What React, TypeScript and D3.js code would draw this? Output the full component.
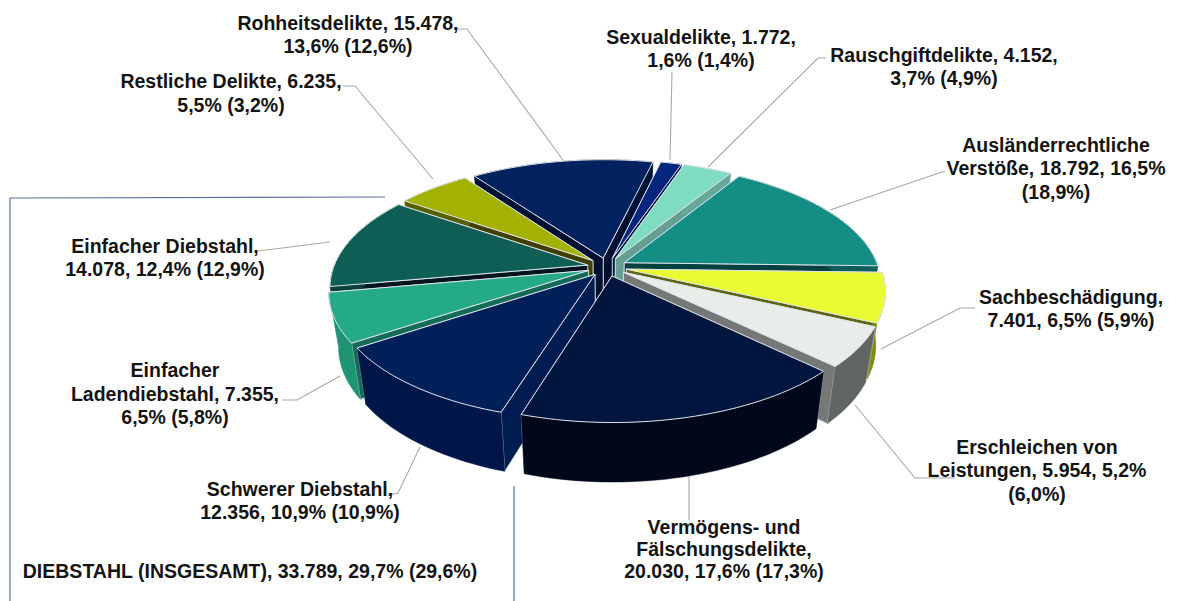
import React from "react";
import * as d3 from "d3";

const W = 1179, H = 601;
const categories = ["Sexualdelikte","Rauschgiftdelikte","Ausländerrechtliche Verstöße","Sachbeschädigung","Erschleichen von Leistungen","Vermögens- und Fälschungsdelikte","Schwerer Diebstahl","Einfacher Ladendiebstahl","Einfacher Diebstahl","Restliche Delikte","Rohheitsdelikte"];
const values = [1772,4152,18792,7401,5954,20030,12356,7355,14078,6235,15478];
const topColors = ["#04257e","#7fdcc2","#148d85","#e9fb33","#e9edea","#01163f","#011f59","#24ab86","#0e5e55","#a3b200","#02215f"];
const wallColors = ["#021a58","#65a898","#0d5f5a","#7d8a10","#626663","#01081c","#011648","#1f9474","#09403a","#555f00","#011238"];
const sideColors = ["#011545","#649f92","#07413f","#5d6410","#757876","#010e2c","#011c50","#136b58","#03161f","#403f00","#010f30"];

const labelLines = [
  ["Sexualdelikte, 1.772,","1,6% (1,4%)"],
  ["Rauschgiftdelikte, 4.152,","3,7% (4,9%)"],
  ["Ausländerrechtliche","Verstöße, 18.792, 16,5%","(18,9%)"],
  ["Sachbeschädigung,","7.401, 6,5% (5,9%)"],
  ["Erschleichen von","Leistungen, 5.954, 5,2%","(6,0%)"],
  ["Vermögens- und","Fälschungsdelikte,","20.030, 17,6% (17,3%)"],
  ["Schwerer Diebstahl,","12.356, 10,9% (10,9%)"],
  ["Einfacher","Ladendiebstahl, 7.355,","6,5% (5,8%)"],
  ["Einfacher Diebstahl,","14.078, 12,4% (12,9%)"],
  ["Restliche Delikte, 6.235,","5,5% (3,2%)"],
  ["Rohheitsdelikte, 15.478,","13,6% (12,6%)"],
];
const summaryLabel = "DIEBSTAHL (INSGESAMT), 33.789, 29,7% (29,6%)";

const labelCenter: [number, number[]][] = [
  [701,[44,67]],[944,[62,85]],[1056,[152,175,199]],[1071,[304,327]],[1037,[454,477,501]],
  [724,[534,556,578]],[300,[496,519]],[175,[377,401,424]],[165,[253,276]],[231,[88,112]],[348,[30,53]],
];
const leaders: [number, number][][] = [
  [[672,72],[670,160]],
  [[826,58],[818,58],[708,167]],
  [[945,171],[830,210]],
  [[975,308],[960,308],[881,349]],
  [[955,478],[915,478],[855,405]],
  [[689,476],[689,520]],
  [[420,447],[398,493],[388,495]],
  [[282,400],[297,400],[340,376]],
  [[258,251],[330,242]],
  [[343,86],[355,86],[433,179]],
  [[457,29],[467,29],[563,160]],
];

const cx = 607, cy = 267, rx = 254, ry = 118, persp = 0.171, depth = 53, shrink = 0.965, explode = 0.078;
const startDeg = 13.2;

type P = [number, number];
const project = (x: number, y: number, z: number): P => {
  const s = 1 / (1 - persp * y);
  const sz = z ? shrink : 1;
  return [cx + rx * x * s * sz, cy + ry * y * s * sz + z * depth * s];
};

const pieGen = d3.pie<number>().sort(null).startAngle((startDeg * Math.PI) / 180).endAngle(((startDeg + 360) * Math.PI) / 180);
const arcs = pieGen(values);
const line = d3.line<P>();
const closed = (pts: P[]) => line(pts) + "Z";

const slices = arcs.map((a, i) => {
  const mid = (a.startAngle + a.endAngle) / 2;
  const ox = explode * Math.sin(mid), oy = -explode * Math.cos(mid);
  const n = Math.max(4, Math.ceil((a.endAngle - a.startAngle) / 0.03));
  const angles = d3.range(n + 1).map((k) => a.startAngle + ((a.endAngle - a.startAngle) * k) / n);
  const rimAt = (t: number, z: number) => project(ox + Math.sin(t), oy - Math.cos(t), z);
  const apex = (z: number) => project(ox, oy, z);
  const top = closed([apex(0), ...angles.map((t) => rimAt(t, 0))]);
  const wall = closed([...angles.map((t) => rimAt(t, 0)), ...angles.slice().reverse().map((t) => rimAt(t, 1))]);
  const side = (t: number) => closed([apex(0), rimAt(t, 0), rimAt(t, 1), apex(1)]);
  // the side whose rim lies further back is painted first
  const sides = [a.startAngle, a.endAngle].sort((p, q) => -Math.cos(p) - -Math.cos(q)).map(side);
  return { i, order: -Math.cos(mid), top, wall, sides };
}).sort((p, q) => p.order - q.order);

const edge = "#dfe4ea";

export default function App() {
  return (
    <svg width={W} height={H} viewBox={`0 0 ${W} ${H}`} style={{ position: "absolute", left: 0, top: 0, background: "#fff" }}>
      <path d={line([[385, 197], [10, 198], [10, 601]])!} fill="none" stroke="#5b7299" strokeWidth={1.2} />
      <path d={line([[514, 486], [514, 601]])!} fill="none" stroke="#5b7299" strokeWidth={1.2} />
      {leaders.map((l, i) => (
        <path key={i} d={line(l)!} fill="none" stroke="#a8a8a8" strokeWidth={1.1} />
      ))}
      {slices.map((s) => (
        <g key={s.i}>
          {s.sides.map((d, k) => (
            <path key={k} d={d} fill={sideColors[s.i]} stroke={edge} strokeWidth={0.8} />
          ))}
          <path d={s.wall} fill={wallColors[s.i]} stroke={wallColors[s.i]} strokeWidth={0.5} />
          <path d={s.top} fill={topColors[s.i]} stroke={edge} strokeWidth={1} strokeLinejoin="round" />
        </g>
      ))}
      <g fontFamily="'Liberation Sans', Arial, sans-serif" fontWeight={700} fontSize={19.5} fill="#141414" textAnchor="middle">
        {labelLines.map((ls, i) =>
          ls.map((t, j) => (
            <text key={i + "-" + j} x={labelCenter[i][0]} y={labelCenter[i][1][j]}>{t}</text>
          ))
        )}
        <text x={250} y={578}>{summaryLabel}</text>
      </g>
    </svg>
  );
}
